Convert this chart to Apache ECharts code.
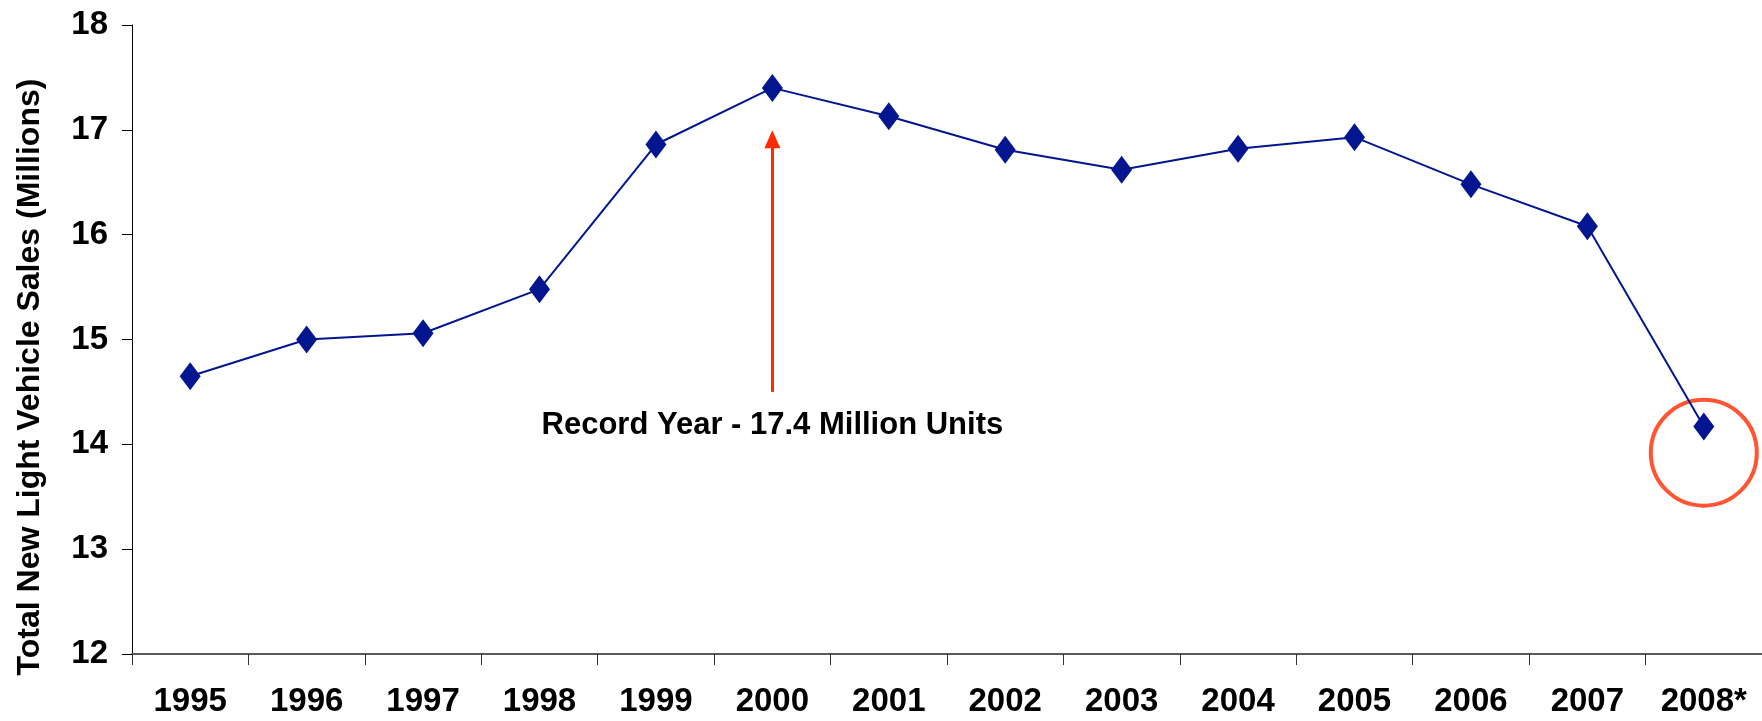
<!DOCTYPE html>
<html>
<head>
<meta charset="utf-8">
<title>Total New Light Vehicle Sales</title>
<script src="https://cdn.jsdelivr.net/npm/echarts@6/dist/echarts.min.js"></script>
<style>
  html, body { margin: 0; padding: 0; background: #ffffff; }
  #chart { width: 1762px; height: 721px; }
</style>
</head>
<body>
<div id="chart"></div>
<script>
// Annual U.S. light vehicle sales, millions of units
const years = ['1995', '1996', '1997', '1998', '1999', '2000', '2001',
               '2002', '2003', '2004', '2005', '2006', '2007', '2008*'];
const sales = [14.65, 15.0, 15.06, 15.48, 16.86, 17.4, 17.13,
               16.81, 16.62, 16.82, 16.93, 16.48, 16.08, 14.17];

// Value axis range
const yMin = 12;
const yMax = 18;
const yStep = 1;

// Annotation anchors (data units)
const arrowBase = 14.5;
const arrowTip = 16.91;
const ringCenter = 13.92;

const recordIdx = sales.indexOf(Math.max(...sales));
const recordLabel = 'Record Year - ' + sales[recordIdx] + ' Million Units';

const FONT = '"Liberation Sans", Arial, Helvetica, sans-serif';
const NAVY = '#03168f';
const RED = '#ff2a00';

const chart = echarts.init(document.getElementById('chart'), null, { renderer: 'canvas' });

chart.setOption({
  animation: false,
  backgroundColor: '#ffffff',
  grid: { left: 132, right: 0, top: 25, bottom: 67, containLabel: false },
  xAxis: {
    type: 'category',
    data: years,
    boundaryGap: true,
    axisLine: { show: true, lineStyle: { color: '#5a5a5a', width: 2 } },
    axisTick: { show: true, length: 11, inside: false, lineStyle: { color: '#333333', width: 1 } },
    axisLabel: {
      margin: 31,
      color: '#000000',
      fontFamily: FONT,
      fontWeight: 'bold',
      fontSize: 33
    },
    splitLine: { show: false }
  },
  yAxis: {
    type: 'value',
    min: yMin,
    max: yMax,
    interval: yStep,
    axisLine: { show: true, lineStyle: { color: '#000000', width: 1 } },
    axisTick: { show: true, length: 10, inside: false, lineStyle: { color: '#000000', width: 1 } },
    axisLabel: {
      margin: 24,
      color: '#000000',
      fontFamily: FONT,
      fontWeight: 'bold',
      fontSize: 33
    },
    splitLine: { show: false }
  },
  graphic: [
    {
      type: 'text',
      x: 30,
      y: 377,
      rotation: Math.PI / 2,
      style: {
        text: 'Total New Light Vehicle Sales (Millions)',
        fill: '#000000',
        font: 'bold 32px ' + FONT,
        align: 'center',
        verticalAlign: 'middle'
      }
    }
  ],
  series: [
    {
      name: 'Sales',
      type: 'line',
      data: sales,
      symbol: 'diamond',
      symbolSize: [21, 28],
      itemStyle: { color: NAVY },
      lineStyle: { color: NAVY, width: 2 },
      z: 3,
      markLine: {
        silent: true,
        symbol: ['none', 'triangle'],
        symbolSize: [16, 18],
        lineStyle: { color: RED, width: 3, type: 'solid' },
        label: {
          show: true,
          position: 'start',
          distance: 18,
          formatter: recordLabel,
          color: '#000000',
          fontFamily: FONT,
          fontWeight: 'bold',
          fontSize: 31
        },
        data: [
          [
            { coord: [years[recordIdx], arrowBase] },
            { coord: [years[recordIdx], arrowTip] }
          ]
        ]
      }
    },
    {
      name: 'Forecast ring',
      type: 'scatter',
      data: [[years[years.length - 1], ringCenter]],
      symbol: 'circle',
      symbolSize: 106,
      silent: true,
      itemStyle: { color: 'rgba(0,0,0,0)', borderColor: RED, borderWidth: 4 },
      z: 2
    }
  ]
});
</script>
</body>
</html>
